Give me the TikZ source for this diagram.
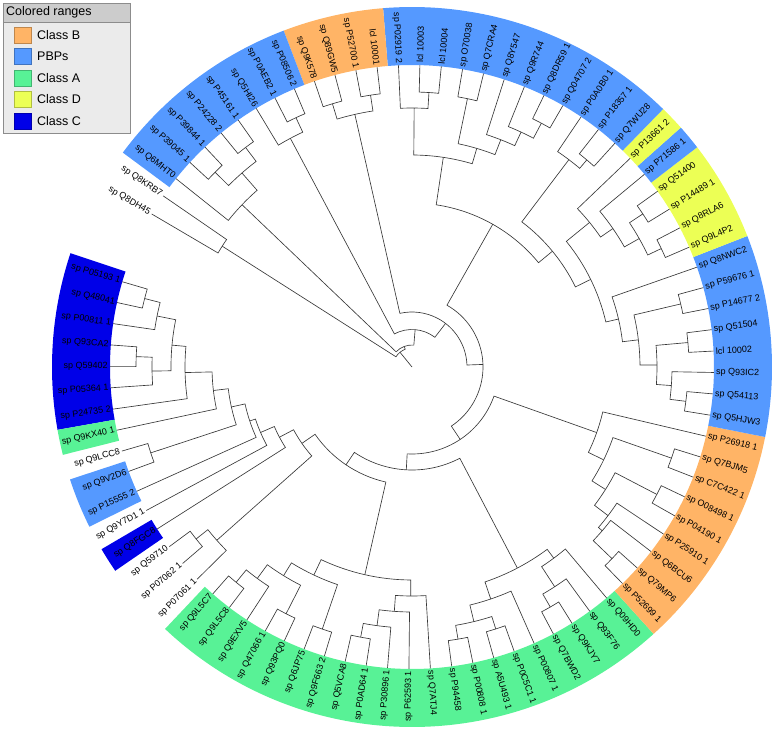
\documentclass[tikz,border=0pt]{standalone}
\usepackage{fontspec}
\setmainfont{Liberation Sans}
\definecolor{cB}{RGB}{255,180,102}
\definecolor{cP}{RGB}{85,153,255}
\definecolor{cA}{RGB}{88,242,150}
\definecolor{cD}{RGB}{236,255,85}
\definecolor{cC}{RGB}{0,0,232}
\newcommand\trLA[1]{163.6+(#1-1)*4.07}
\newcommand\trband[3]{%
  \pgfmathsetmacro\trBa{\trLA{#1}-2.035}%
  \pgfmathsetmacro\trBb{\trLA{#2}+2.035}%
  \fill[#3] (\trBa:302pt) arc[start angle=\trBa,end angle=\trBb,radius=302pt] -- (\trBb:360pt) arc[start angle=\trBb,end angle=\trBa,radius=360pt] -- cycle;}
\newcommand\trleaf[2]{%
  \pgfmathsetmacro\trA{\trLA{#1}}%
  \expandafter\xdef\csname trA:l#1\endcsname{\trA}%
  \expandafter\xdef\csname trR:l#1\endcsname{302}%
  \pgfmathtruncatemacro\trS{cos(\trA)>=0}%
  \ifnum\trS=1
    \node[lbl,anchor=west,rotate=\trA] (l#1) at (\trA:303.5pt) {#2};%
  \else
    \pgfmathsetmacro\trB{\trA+180}%
    \node[lbl,anchor=east,rotate=\trB] (l#1) at (\trA:303.5pt) {#2};%
  \fi}
\newcommand\trnode[4]{%
  \pgfmathsetmacro\trA{\csname trA:#2\endcsname}%
  \pgfmathsetmacro\trB{\csname trA:#3\endcsname}%
  \pgfmathsetmacro\trM{(\trA+\trB)/2}%
  \expandafter\xdef\csname trA:#1\endcsname{\trM}%
  \expandafter\xdef\csname trR:#1\endcsname{#4}%
  \edef\trRa{\csname trR:#2\endcsname}%
  \edef\trRb{\csname trR:#3\endcsname}%
  \draw[br] (\trA:\trRa pt) -- (\trA:#4pt) arc[start angle=\trA,end angle=\trB,radius=#4pt] -- (\trB:\trRb pt);}
\begin{document}
\begin{tikzpicture}[
  br/.style={draw=black!78, line width=0.65pt, line join=miter},
  lbl/.style={font=\fontsize{9}{10}\selectfont, inner sep=0.6pt, text=black},
  legtxt/.style={font=\fontsize{12.5}{14}\selectfont, anchor=west, inner sep=0pt},
  swatch/.style={minimum width=17pt, minimum height=16pt, inner sep=0pt, line width=0.5pt}
]
\useasboundingbox (-412pt,-364pt) rectangle (363pt,367pt);
% colored ranges
\trband{1}{7}{cC}
\trband{8}{8}{cA}
\trband{10}{11}{cP}
\trband{13}{13}{cC}
\trband{17}{37}{cA}
\trband{38}{46}{cB}
\trband{47}{54}{cP}
\trband{55}{58}{cD}
\trband{59}{59}{cP}
\trband{60}{60}{cD}
\trband{61}{72}{cP}
\trband{73}{76}{cB}
\trband{77}{84}{cP}
% leaves
\trleaf{1}{sp P05193 1}
\trleaf{2}{sp Q48041}
\trleaf{3}{sp P00811 1}
\trleaf{4}{sp Q93CA2}
\trleaf{5}{sp Q59402}
\trleaf{6}{sp P05364 1}
\trleaf{7}{sp P24735 2}
\trleaf{8}{sp Q9KX40 1}
\trleaf{9}{sp Q9LCC8}
\trleaf{10}{sp Q9V2D6}
\trleaf{11}{sp P15555 2}
\trleaf{12}{sp Q9Y7D1 1}
\trleaf{13}{sp Q8FGC8}
\trleaf{14}{sp Q59710}
\trleaf{15}{sp P07062 1}
\trleaf{16}{sp P07061 1}
\trleaf{17}{sp Q9L5C7}
\trleaf{18}{sp Q9L5C8}
\trleaf{19}{sp Q9EXV5}
\trleaf{20}{sp Q47066 1}
\trleaf{21}{sp Q93PQ0}
\trleaf{22}{sp Q6JP75}
\trleaf{23}{sp Q9F663 2}
\trleaf{24}{sp Q5VCA8}
\trleaf{25}{sp P0AD64 1}
\trleaf{26}{sp P30896 1}
\trleaf{27}{sp P62593 1}
\trleaf{28}{sp Q7ATJ4}
\trleaf{29}{sp P94458}
\trleaf{30}{sp P00808 1}
\trleaf{31}{sp A5U493 1}
\trleaf{32}{sp P0C5C1 1}
\trleaf{33}{sp P00807 1}
\trleaf{34}{sp Q7BWD2}
\trleaf{35}{sp Q9KJY7}
\trleaf{36}{sp Q93F76}
\trleaf{37}{sp Q09HD0}
\trleaf{38}{sp P52699 1}
\trleaf{39}{sp Q79MP6}
\trleaf{40}{sp Q6BCU6}
\trleaf{41}{sp P25910 1}
\trleaf{42}{sp P04190 1}
\trleaf{43}{sp O08498 1}
\trleaf{44}{sp C7C422 1}
\trleaf{45}{sp Q7BJM5}
\trleaf{46}{sp P26918 1}
\trleaf{47}{sp Q5HJW3}
\trleaf{48}{sp Q54113}
\trleaf{49}{sp Q93IC2}
\trleaf{50}{lcl 10002}
\trleaf{51}{sp Q51504}
\trleaf{52}{sp P14677 2}
\trleaf{53}{sp P59676 1}
\trleaf{54}{sp Q8NWC2}
\trleaf{55}{sp Q9L4P2}
\trleaf{56}{sp Q8RLA6}
\trleaf{57}{sp P14489 1}
\trleaf{58}{sp Q51400}
\trleaf{59}{sp P71586 1}
\trleaf{60}{sp P13661 2}
\trleaf{61}{sp Q7WU28}
\trleaf{62}{sp P18357 1}
\trleaf{63}{sp P0A0B0 1}
\trleaf{64}{sp Q04707 2}
\trleaf{65}{sp Q8DR59 1}
\trleaf{66}{sp Q9R744}
\trleaf{67}{sp Q8Y547}
\trleaf{68}{sp Q7CRA4}
\trleaf{69}{sp O70038}
\trleaf{70}{lcl 10004}
\trleaf{71}{lcl 10003}
\trleaf{72}{sp P02919 2}
\trleaf{73}{lcl 10001}
\trleaf{74}{sp P52700 1}
\trleaf{75}{sp Q89GW5}
\trleaf{76}{sp Q9K578}
\trleaf{77}{sp P08506 2}
\trleaf{78}{sp P0AEB2 1}
\trleaf{79}{sp Q5HI26}
\trleaf{80}{sp P45161 1}
\trleaf{81}{sp P24228 2}
\trleaf{82}{sp P39844 1}
\trleaf{83}{sp P39045 1}
\trleaf{84}{sp Q6MHT0}
\trleaf{85}{sp Q8KRB7}
\trleaf{86}{sp Q8DH45}
% internal nodes
\trnode{CCa}{l1}{l2}{276}
\trnode{CCb}{CCa}{l3}{260}
\trnode{CCc}{l4}{l5}{276}
\trnode{CCd}{CCc}{l6}{260}
\trnode{CCe}{CCb}{CCd}{241}
\trnode{CCf}{CCe}{l7}{227}
\trnode{CCg}{CCf}{l8}{200}
\trnode{QV}{l9}{l10}{275}
\trnode{CCh}{CCg}{QV}{185}
\trnode{Na}{CCh}{l11}{171}
\trnode{Nb}{Na}{l12}{165}
\trnode{Nc}{Nb}{l13}{150}
\trnode{Ma}{l14}{l15}{276}
\trnode{Mb}{Ma}{l16}{261}
\trnode{Nd}{Nc}{Mb}{134}
\trnode{La}{l17}{l18}{278}
\trnode{Lb}{La}{l19}{262}
\trnode{Lq}{l20}{l21}{277}
\trnode{Lc}{Lb}{Lq}{245}
\trnode{Lf}{l22}{l23}{277}
\trnode{Ld}{Lc}{Lf}{230}
\trnode{Ga}{l24}{l25}{275}
\trnode{Gb}{Ga}{l26}{261}
\trnode{Gc}{Gb}{l27}{245}
\trnode{Gd}{Gc}{l28}{229}
\trnode{Le}{Ld}{Gd}{213}
\trnode{Ne}{Nd}{Le}{118}
\trnode{Aa}{l29}{l30}{276}
\trnode{Ab}{l31}{l32}{275}
\trnode{Ac}{Aa}{Ab}{262}
\trnode{Ad}{Ac}{l33}{245}
\trnode{Ae}{l34}{l35}{277}
\trnode{Af}{Ae}{l36}{262}
\trnode{Ag}{Af}{l37}{238}
\trnode{Ah}{Ad}{Ag}{227}
\trnode{Nf}{Ne}{Ah}{103}
\trnode{Ba}{l38}{l39}{277}
\trnode{Bb}{Ba}{l40}{251}
\trnode{Bc}{Bb}{l41}{246}
\trnode{Bd}{l42}{l43}{276}
\trnode{Be}{Bc}{Bd}{229}
\trnode{Bf}{l44}{l45}{275}
\trnode{Bg}{Be}{Bf}{213}
\trnode{Bh}{Bg}{l46}{196}
\trnode{Ng}{Nf}{Bh}{87}
\trnode{Pa}{l47}{l48}{276}
\trnode{Pb}{Pa}{l49}{260}
\trnode{Pc}{l50}{l51}{277}
\trnode{Pd}{Pb}{Pc}{245}
\trnode{Pe}{l52}{l53}{276}
\trnode{Pf}{Pd}{Pe}{228}
\trnode{Pg}{Pf}{l54}{212}
\trnode{Da}{l55}{l56}{276}
\trnode{Db}{l57}{l58}{277}
\trnode{Dc}{Da}{Db}{261}
\trnode{Dd}{Dc}{l59}{244}
\trnode{De}{Dd}{l60}{229}
\trnode{Sa}{Pg}{De}{199}
\trnode{Ua}{l61}{l62}{271}
\trnode{Ub}{Ua}{l63}{260}
\trnode{Va}{Sa}{Ub}{182}
\trnode{Ta}{l64}{l65}{276}
\trnode{Tb}{Ta}{l66}{259}
\trnode{Tc}{Tb}{l67}{244}
\trnode{Td}{l68}{l69}{274}
\trnode{Te}{Tc}{Td}{228}
\trnode{Tf}{l70}{l71}{275}
\trnode{Tg}{Tf}{l72}{259}
\trnode{Th}{Te}{Tg}{212}
\trnode{Wa}{Va}{Th}{164}
\trnode{Xa}{Ng}{Wa}{71}
\trnode{Ca}{l73}{l74}{275}
\trnode{Cb}{l75}{l76}{275}
\trnode{Cc}{Ca}{Cb}{259}
\trnode{Ya}{Xa}{Cc}{55}
\trnode{Ka}{l77}{l78}{275}
\trnode{Kb}{Ka}{l79}{259}
\trnode{Ra}{Ya}{Kb}{37.5}
\trnode{Ja}{l80}{l81}{275.5}
\trnode{Jb}{l82}{l83}{277}
\trnode{Jc}{Ja}{Jb}{258}
\trnode{Jd}{Jc}{l84}{235}
\trnode{Rb}{Ra}{Jd}{22}
\trnode{QK}{l85}{l86}{225}
\trnode{Rc}{Rb}{QK}{19}
\pgfmathsetmacro\trA{\csname trA:Rc\endcsname}
\coordinate (root) at (0pt,0pt);
\draw[br] (root) -- (\trA:19pt);
% legend
\node[draw=black!45, fill=black!8, minimum width=127pt, minimum height=130pt, anchor=north west, inner sep=0pt] (leg) at (-409pt,364pt) {};
\fill[black!20] (leg.north west) rectangle ([yshift=-19pt]leg.north east);
\draw[black!45] (leg.north west) rectangle (leg.south east);
\draw[black!45] ([yshift=-19pt]leg.north west) -- ([yshift=-19pt]leg.north east);
\node[legtxt] (legT) at (-406pt,354.5pt) {Colored ranges};
\node[swatch, fill=cB, draw=cB!75!black] (s1) at (-389pt,332pt) {};
\node[legtxt] (t1) at (-375pt,332pt) {Class B};
\node[swatch, fill=cP, draw=cP!75!black] (s2) at (-389pt,310.5pt) {};
\node[legtxt] (t2) at (-375pt,310.5pt) {PBPs};
\node[swatch, fill=cA, draw=cA!75!black] (s3) at (-389pt,289pt) {};
\node[legtxt] (t3) at (-375pt,289pt) {Class A};
\node[swatch, fill=cD, draw=cD!75!black] (s4) at (-389pt,267.5pt) {};
\node[legtxt] (t4) at (-375pt,267.5pt) {Class D};
\node[swatch, fill=cC, draw=cC!75!black] (s5) at (-389pt,246pt) {};
\node[legtxt] (t5) at (-375pt,246pt) {Class C};
\end{tikzpicture}
\end{document}
